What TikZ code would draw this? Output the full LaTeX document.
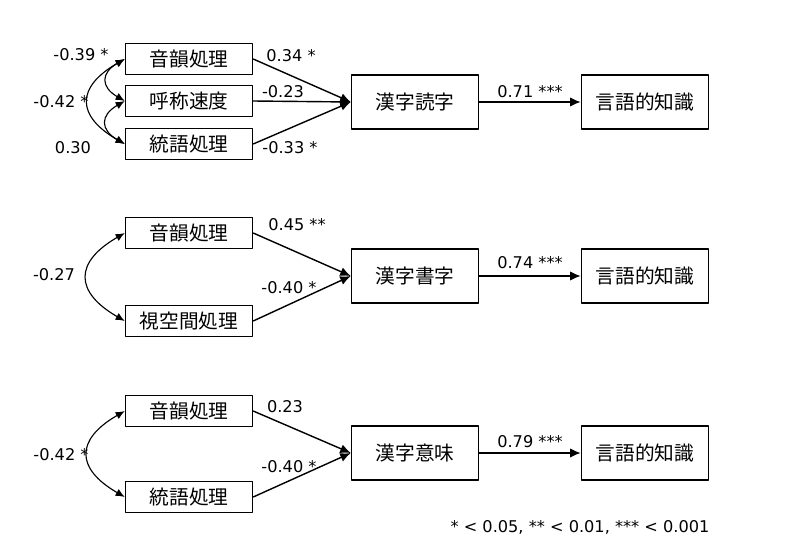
\documentclass[tikz,border=0pt]{standalone}
\usepackage{fontspec}
\setmainfont{DejaVu Sans}
\newfontfamily\jpfont{Noto Sans CJK JP}
\usetikzlibrary{arrows.meta,positioning}

\tikzset{
  varbox/.style={draw,line width=1pt,minimum width=3.175cm,minimum height=0.775cm,
    inner sep=0pt,font=\jpfont\fontsize{14}{16}\selectfont},
  outbox/.style={varbox,minimum height=1.35cm},
  coef/.style={inner sep=0pt,font=\fontsize{11.5}{13}\selectfont},
  effect/.style={-{Latex[length=7.5pt,width=6.5pt]},line width=1pt},
  corr/.style={{Latex[length=6.5pt,width=5.5pt]}-{Latex[length=6.5pt,width=5.5pt]},line width=0.8pt,
    out=210,in=150,looseness=1.7}
}

\begin{document}
\begin{tikzpicture}[x=0.025cm,y=-0.025cm,line join=round]
    \useasboundingbox (0,0) rectangle (800,545);
    % reading
    \node[varbox] (phonA) at (189,59) {音韻処理};
    \node[varbox] (namA) at (189,101) {呼称速度};
    \node[varbox] (synA) at (189,144) {統語処理};
    \node[outbox] (readA) at (415,102) {漢字読字};
    \node[outbox] (knowA) at (645,102) {言語的知識};
    \draw[effect] (phonA.east) -- (readA.west);
    \draw[effect] (namA.east) -- (readA.west);
    \draw[effect] (synA.east) -- (readA.west);
    \draw[effect] (readA) -- (knowA);
    \draw[corr] (phonA.west) to (synA.west);
    \draw[corr] (phonA.west) to (namA.west);
    \draw[corr] (namA.west) to (synA.west);
    \node[coef] (cA1) at (291,56) {0.34 *};
    \node[coef] (cA2) at (283,92) {-0.23};
    \node[coef] (cA3) at (290,148) {-0.33 *};
    \node[coef] (cA4) at (530,92) {0.71 ***};
    \node[coef] (rA1) at (81,55) {-0.39 *};
    \node[coef] (rA2) at (61,102) {-0.42 *};
    \node[coef] (rA3) at (73,148) {0.30};
    % writing
    \node[varbox] (phonB) at (189,233) {音韻処理};
    \node[varbox] (visB) at (189,321) {視空間処理};
    \node[outbox] (writeB) at (415,276) {漢字書字};
    \node[outbox] (knowB) at (645,276) {言語的知識};
    \draw[effect] (phonB.east) -- (writeB.west);
    \draw[effect] (visB.east) -- (writeB.west);
    \draw[effect] (writeB) -- (knowB);
    \draw[corr] (phonB.west) to (visB.west);
    \node[coef] (cB1) at (297,225) {0.45 **};
    \node[coef] (cB2) at (289,288) {-0.40 *};
    \node[coef] (cB3) at (530,263) {0.74 ***};
    \node[coef] (rB1) at (54,275) {-0.27};
    % meaning
    \node[varbox] (phonC) at (189,411) {音韻処理};
    \node[varbox] (synC) at (189,497) {統語処理};
    \node[outbox] (meanC) at (415,453) {漢字意味};
    \node[outbox] (knowC) at (645,453) {言語的知識};
    \draw[effect] (phonC.east) -- (meanC.west);
    \draw[effect] (synC.east) -- (meanC.west);
    \draw[effect] (meanC) -- (knowC);
    \draw[corr] (phonC.west) to (synC.west);
    \node[coef] (cC1) at (285,407) {0.23};
    \node[coef] (cC2) at (289,467) {-0.40 *};
    \node[coef] (cC3) at (530,442) {0.79 ***};
    \node[coef] (rC1) at (61,455) {-0.42 *};
    \node[coef] (note) at (580,527) {* < 0.05, ** < 0.01, *** < 0.001};
  \end{tikzpicture}
\end{document}
